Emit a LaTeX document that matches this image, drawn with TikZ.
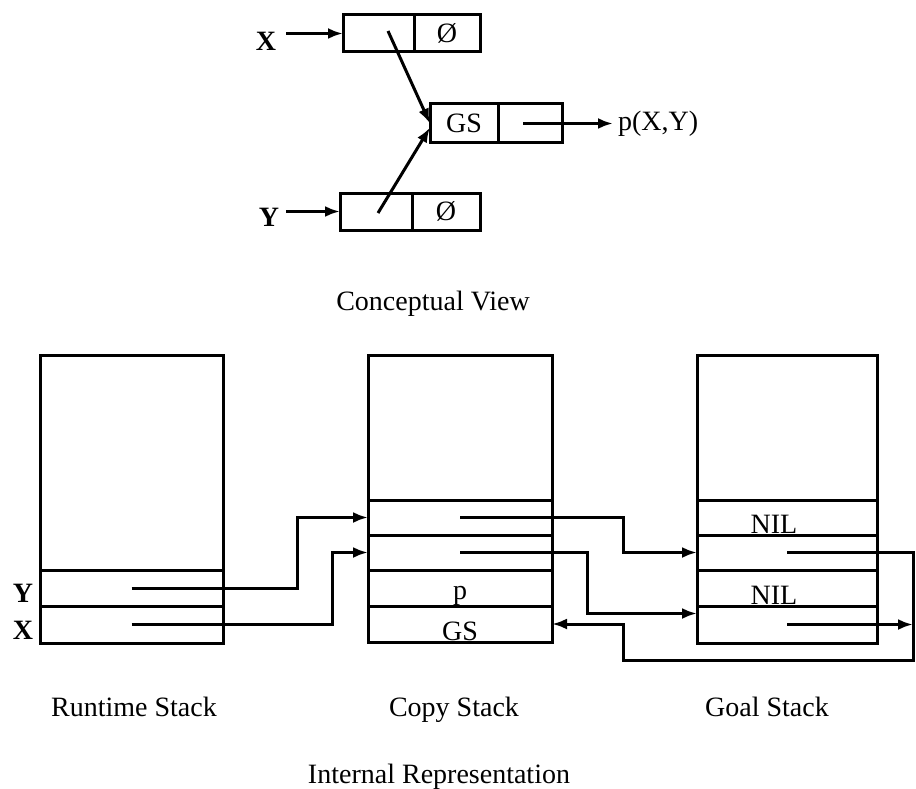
\documentclass[tikz,border=0pt]{standalone}
\usepackage{fontspec}
\setmainfont{Liberation Serif}
\usetikzlibrary{arrows.meta}
\begin{document}
\begin{tikzpicture}[x=1pt,y=-1pt,
  every node/.style={font=\fontsize{28}{30}\selectfont},
  bx/.style={draw, line width=3pt, inner sep=0pt, outer sep=0pt},
  arr/.style={line width=3pt, -{Latex[length=15pt,width=11pt]}},
  lab/.style={inner sep=0pt, outer sep=0pt},
  blab/.style={inner sep=0pt, outer sep=0pt, font=\fontsize{28}{30}\selectfont\bfseries},
  baselab/.style={inner sep=0pt, outer sep=0pt, anchor=base}]
\useasboundingbox (0,0) rectangle (916,789);
% ---------- conceptual view ----------
\node[bx,minimum width=71pt,minimum height=37pt] (xa) at (378.5,33.5) {};
\node[bx,minimum width=66pt,minimum height=37pt] (xb) at (447,33.5) {Ø};
\node[bx,minimum width=72pt,minimum height=37pt] (ya) at (376,211.5) {};
\node[bx,minimum width=68pt,minimum height=37pt] (yb) at (446,211.5) {Ø};
\node[bx,minimum width=68pt,minimum height=39pt] (ga) at (464,123.5) {GS};
\node[bx,minimum width=64pt,minimum height=39pt] (gb) at (530,123.5) {};
\node[lab,anchor=west] (pxy) at (618,124) {p(X,Y)};
\node[blab] (xl) at (266,41) {X};
\node[blab] (yl) at (269,217) {Y};
\draw[arr,shorten <=10pt] (xl.east |- xa.west) -- (xa.west);
\draw[arr,shorten <=7pt] (yl.east |- ya.west) -- (ya.west);
\draw[arr] ([xshift=9.5pt,yshift=2.5pt]xa.center) -- ([yshift=0pt]ga.west);
\draw[arr] ([xshift=2pt,yshift=-1.5pt]ya.center) -- ([yshift=-4pt]ga.west);
\draw[arr,shorten >=5pt] ([xshift=-7pt]gb.center) -- (pxy.west |- gb.center);
\node[baselab] (cv) at (433,310) {Conceptual View};
% ---------- internal representation ----------
% runtime stack
\node[bx,minimum width=183pt,minimum height=215pt] (rsTop) at (131.5,462.5) {};
\node[bx,minimum width=183pt,minimum height=36pt] (rsY) at (131.5,588) {};
\node[bx,minimum width=183pt,minimum height=37pt] (rsX) at (131.5,624.5) {};
\node[blab] (ylab) at (23,593) {Y};
\node[blab] (xlab) at (23,630) {X};
% copy stack
\node[bx,minimum width=184pt,minimum height=145pt] (csTop) at (460,427.5) {};
\node[bx,minimum width=184pt,minimum height=35pt] (cs1) at (460,517.5) {};
\node[bx,minimum width=184pt,minimum height=35pt] (cs2) at (460,552.5) {};
\node[bx,minimum width=184pt,minimum height=36pt] (csP) at (460,588) {};
\node[bx,minimum width=184pt,minimum height=36pt] (csGS) at (460,624) {};
\node[baselab] (plab) at (460,599) {p};
\node[baselab] (gslab) at (460,640) {GS};
% goal stack
\node[bx,minimum width=180pt,minimum height=145pt] (gsTop) at (787,427.5) {};
\node[bx,minimum width=180pt,minimum height=35pt] (gsN1) at (787,517.5) {};
\node[bx,minimum width=180pt,minimum height=35pt] (gs1) at (787,552.5) {};
\node[bx,minimum width=180pt,minimum height=36pt] (gsN2) at (787,588) {};
\node[bx,minimum width=180pt,minimum height=37pt] (gs2) at (787,624.5) {};
\node[baselab] (nil1) at (774,533) {NIL};
\node[baselab] (nil2) at (774,604) {NIL};
% pointers
\coordinate (loopR) at (913,660);
\coordinate (loopL) at (623,660);
\draw[arr] (rsY.center) -- ++(165.5,0) |- (cs1.west);
\draw[arr] (rsX.center) -- ++(200.5,0) |- (cs2.west);
\draw[arr] (cs1.center) -- ++(163,0) |- (gs1.west);
\draw[arr] (cs2.center) -- ++(127,0) |- ([yshift=11pt]gs2.west);
\draw[arr] (gs1.center) -| (loopR) -- (loopL) |- (csGS.east);
\draw[arr] (gs2.center) -- (gs2.center -| loopR);
% captions
\node[baselab] (rscap) at (134,716) {Runtime Stack};
\node[baselab] (cscap) at (454,716) {Copy Stack};
\node[baselab] (gscap) at (767,716) {Goal Stack};
\node[baselab] (ircap) at (439,783) {Internal Representation};
\end{tikzpicture}
\end{document}
